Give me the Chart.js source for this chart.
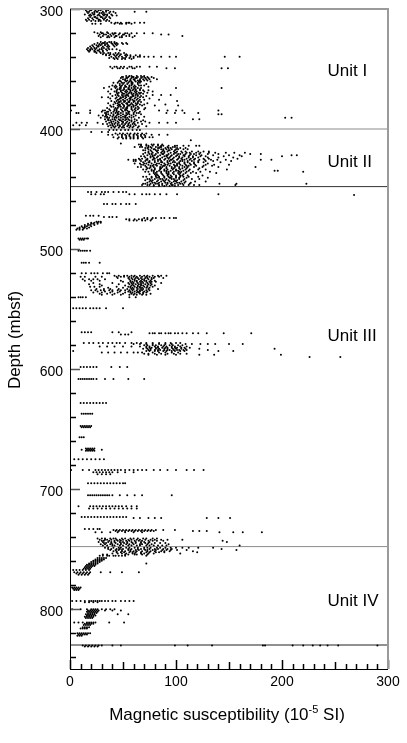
<!DOCTYPE html>
<html>
<head>
<meta charset="utf-8">
<script src="https://cdn.jsdelivr.net/npm/chart.js@4/dist/chart.umd.min.js"></script>
<style>
  html, body { margin: 0; padding: 0; background: #fff; }
  canvas { display: block; }
</style>
</head>
<body>
<canvas id="g-susc" width="407" height="743"></canvas>
<script>
// rows: [depth (mbsf), [magnetic susceptibility (10^-5 SI) read at that depth]]
var unitI = [
  [300.2, [13,16,17,21,23,24,28,31]],
  [301.1, [15,19,20,24,27,29,34,36]],
  [302.3, [16,18,23,25,26,31,34,38,41,61,72]],
  [303.4, [17,21,23,28,30,32,37,43]],
  [304.6, [14,19,22,23,27,31,33,35,39]],
  [305.5, [18,20,26,28,32,35,40,44]],
  [306.7, [19,23,24,29,30,34,37]],
  [307.8, [17,21,25,26,31,33,38]],
  [309.0, [15,18,22,27,28,32,35]],
  [310.1, [16,20,24,27,29,34,37]],
  [311.4, [39,43,45,48,53,55,56,61,66,70]],
  [312.2, [21,24,29,42,47,49,53,58]],
  [319.4, [23,29,35]],
  [320.3, [26,30,31,36,40,42,43,47,52,54,58,63,70,78]],
  [321.2, [28,32,34,38,41,46,50,51,56,86,93]],
  [322.4, [27,31,36,39,43,44,49,53,56,61,106]],
  [323.5, [29,35,37,42,47,49,59]],
  [327.4, [29,33,37,39,42]],
  [328.3, [26,31,32,35,39,42,44,49,53]],
  [329.2, [23,28,30,33,35,40,43,45,50,54]],
  [330.3, [21,25,27,29,33,36,41,44]],
  [331.2, [19,22,26,27,31,35,37,42]],
  [332.4, [17,20,23,25,30,32,36]],
  [333.5, [16,19,21,24,28,30,34,37,40,44]],
  [334.6, [17,19,23,26,27,31,35,47]],
  [335.6, [18,23,24,28,31]],
  [336.6, [25,29,32,36,38,43,46,51]],
  [337.7, [31,34,38,41,45,48,53]],
  [338.6, [34,37,42,44,47,52,54,57,62,66]],
  [339.7, [39,43,46,49,53,57,60,64,66,70,74,79,86,94,100,146,160]],
  [340.8, [37,41,44,50,52,56,60]],
  [341.6, [42,45,49,52,58]],
  [348.1, [38,42,44,48,51,56,58,63,66,75,82]],
  [349.3, [40,45,47,50,54,59,61,91,99,143,149]],
  [355.8, [53,56,58,63,67,70]],
  [356.7, [49,50,55,59,60,64,68,70,73,77]],
  [357.6, [48,53,54,58,62,63,67,71,74,79]],
  [358.5, [50,52,57,60,61,66,69,72,75,82]],
  [359.5, [47,52,54,57,61,64,66,70,73]],
  [360.4, [46,48,53,56,58,62,65,67,76]],
  [361.5, [41,45,49,51,55,58,59,64,66]],
  [362.5, [47,50,54,58,59,64,72]],
  [363.8, [40,43,47,49,52,56,58,61,65,67,70]],
  [364.8, [37,42,44,48,52,53,56,60,62,74]],
  [365.9, [32,43,47,48,51,55,58,61,64,67,100,143]],
  [366.8, [39,45,47,51,55,56,60,62,66]],
  [367.8, [44,48,50,53,57,59,62,66,69,74]],
  [368.7, [36,42,44,48,52,54,57,61,63,70,78]],
  [369.7, [44,46,49,53,56,58,62,65,67,73]],
  [370.7, [38,45,50,51,55,58,60,63,66,69]],
  [371.7, [43,45,49,53,54,59,62,64,78,86,95]],
  [372.6, [40,46,50,52,55,59,60,64,67,72]],
  [373.6, [30,36,44,48,50,53,57,58,62,66,69]],
  [374.6, [38,43,47,48,52,56,57,61,64,75]],
  [375.6, [45,46,50,54,57,59,63,66,70,84]],
  [376.6, [39,44,48,51,52,56,60,61,65,101]],
  [377.6, [42,46,47,51,55,56,60,64,67]],
  [378.5, [36,43,45,49,53,54,58,62,64,73]],
  [379.5, [41,46,47,50,54,57,59,63,66,70,90]],
  [380.5, [38,45,47,51,55,56,60,62,68,80,102]],
  [381.5, [39,41,46,48,51,54,58,60,64]],
  [382.5, [35,43,45,50,53,54,58,62,65,71]],
  [383.5, [37,42,44,48,52,53,58,61,64,70]],
  [384.6, [0,1,19,31,33,38,42,44,49,52,54,59,62,84,92,100,106,140]],
  [385.6, [30,35,36,41,44,46,50,55,56,61,66]],
  [386.7, [6,8,19,33,34,39,43,45,48,53,55,60,63,65,91,99,108,121]],
  [387.7, [34,36,41,45,46,50,54,56,60,67,140,143]],
  [388.7, [27,31,34,38,41,44,48,52,53,58,62]],
  [389.7, [33,35,40,43,46,50,52,56,60,70]],
  [390.7, [29,35,37,42,44,48,52,54,58,65,203,209]],
  [391.8, [33,36,40,42,46,50,53,55,61,116,122]],
  [392.8, [36,38,43,47,48,52,56,58,63,69]],
  [393.8, [34,39,41,45,49,50,54,58,61,67,71]],
  [394.8, [6,11,16,26,37,39,43,46,50,53,56,60,64,75,84,92,100]],
  [395.8, [31,35,40,42,45,49,52,55,59,61,68]],
  [396.8, [3,9,15,38,40,45,47,51,55,57,62]],
  [397.8, [36,41,43,47,50,54,57,60,65,72]],
  [398.8, [39,42,46,49,51,56,59,64]]
];

var unitII = [
  [400.8, [37,41,44,48,52,55,59,63,66]],
  [402.6, [20,30,36]],
  [403.7, [43,47,50,54,57,61,64,68,72]],
  [404.8, [36,40,45,49,52,56,60,63,67,70,77,84,92]],
  [405.9, [49,53,56,60,64,67,71]],
  [406.9, [41,46,49,53,57,60,64,68,71,75,78]],
  [407.9, [45,50,53,57,60,64,69]],
  [409.3, [114]],
  [412.1, [48]],
  [413.0, [65,67,72,77,79,83,87]],
  [413.9, [67,72,74,78,83,86,88,93,99,101,107,112,119,122]],
  [414.9, [61,66,68,74,76,81,85,86,92,97,99]],
  [415.9, [71,73,77,83,84,90,93,95,101,104,109]],
  [416.8, [74,79,80,86,88,91,96,100,102,107,111]],
  [417.8, [69,71,76,81,83,88,93,94,99]],
  [418.8, [74,77,82,87,89,92,98,101,105,109,115,121,126,131]],
  [419.8, [71,74,78,83,86,89,95,99,100,106,110,113,119,123,131,137,147,155,165]],
  [420.8, [69,75,77,81,87,88,93,98,102,104,109,114,117,122,130,140,170,180]],
  [421.8, [73,78,80,85,91,92,96,101,107,108,113,119,124,135,150,160,209,214]],
  [422.8, [67,70,76,78,83,89,91,95,100,103,108,112,116,123,128,145,162,200]],
  [423.7, [71,76,79,82,87,92,94,98,103,106,112,116,121,130,140,154]],
  [424.7, [65,68,73,79,80,85,90,93,97,102,105,110,114,118,126,131,158]],
  [425.7, [55,60,62,66,72,73,78,83,85,89,95,96,101,106,108,113,117,122,127,133,139,147,180,190]],
  [426.7, [60,62,67,71,75,80,83,86,92,94,98,104,106,111,115,121,128,135,152]],
  [427.7, [69,74,75,80,86,87,92,97,99,103,108,111,117,121,126,142]],
  [428.7, [61,66,70,72,77,82,84,89,93,95,101,103,108,113,117,130]],
  [429.7, [67,69,74,79,81,86,90,92,98,101,104,109,114,118,128,136,150]],
  [430.7, [71,76,78,82,88,89,94,99,101,106,110,112,119,126,134]],
  [431.7, [64,67,72,76,79,85,87,91,96,99,103,108,111,117,125,140,175]],
  [432.7, [73,75,80,85,86,91,96,98,103,106,110,122]],
  [433.7, [69,72,77,80,85,89,92,97,100,104,109,113,121,128,148]],
  [434.7, [77,79,84,89,91,95,100,102,107,112,193,196]],
  [435.7, [71,74,79,82,86,91,93,98,103,105,110,116,123,132,220]],
  [436.7, [79,81,86,91,93,97,102,104,109,114,119,138]],
  [437.7, [75,80,82,87,92,93,98,103,107]],
  [438.7, [81,83,88,92,95,100,104,106,111,125]],
  [439.7, [69,72,77,81,84,89,93,96,100,104,107,112,121]],
  [440.7, [77,82,84,89,94,95,100,103,110,130]],
  [441.7, [73,75,80,85,87,91,96,98,103,108,115,122]],
  [442.7, [71,76,78,83,88,90,93,99,101,107]],
  [443.7, [75,77,82,86,89,94,98,100,105,109,118,128]],
  [444.7, [73,78,80,84,90,92,96,101,103,108,114]],
  [445.7, [69,71,76,81,83,87,92,95,99,104,106,113,141,157,223]],
  [446.7, [68,73,75,79,84,87,91,96,97,102,107,112,117,122,156]],
  [447.6, [79,84,89,94,99]]
];

var unitIII = [
  [452.4, [17,20,25,30,33,36,41,46,50,53]],
  [454.3, [20,24,29,32,56,61,68,72,75,80,85,91,101,140]],
  [455.0, [268]],
  [462.4, [32,35,40,43,48,53,56,62]],
  [472.3, [15,19,22,27]],
  [473.4, [32,37,40,44]],
  [474.2, [70,73,78,81,86,89,94,98,100]],
  [475.3, [53,56,61,65,68,73,77]],
  [476.3, [56,60,63,68,71,76]],
  [477.2, [25,27,29]],
  [478.1, [20,23,26,29]],
  [479.0, [17,20,22,26]],
  [480.0, [14,17,19,23]],
  [481.0, [11,14,16,20]],
  [482.0, [9,12,14,18]],
  [483.0, [7,9,13,16]],
  [484.0, [6,9,12]],
  [491.3, [8,10,12,14,16,17]],
  [492.2, [9,11,13]],
  [501.4, [8,10,12,14,16,19]],
  [511.4, [11,13,15,18,28]],
  [520.3, [11,15,20,23,26,31,35,37]],
  [522.2, [42,46,51,54,58,61,66,70,73,78,83,86,91]],
  [523.1, [10,14,24,30,44,48,51,56,60,63,68,72,75,80,84]],
  [524.2, [45,55,58,62,64,67,71,73,77,79,88]],
  [525.3, [12,18,22,26,33,56,59,61,65,68,70,74,77]],
  [526.4, [14,20,28,48,57,61,63,67,70,72,76,80]],
  [527.3, [50,57,59,63,66,68,72,75,77,81]],
  [528.4, [22,40,55,58,60,64,67,69,73,76,86]],
  [529.3, [18,28,46,56,59,62,65,67,71,74,77]],
  [530.4, [30,52,58,60,64,67,69,73,76,80]],
  [531.4, [19,23,28,44,55,57,61,64,66,70,73,78]],
  [532.3, [36,50,57,59,63,66,68,72,75]],
  [533.4, [25,32,38,46,54,58,60,64,67,69,74,83]],
  [534.4, [20,24,29,32,37,40,45,48,52,56,59,63,66,68,72,75]],
  [535.4, [26,33,40,47,55,57,61,64,66,70,73]],
  [536.3, [22,30,38,45,52,57,59,63,65,69,72]],
  [537.3, [28,35,42,50,58,61,66,69,76]],
  [538.2, [30,40,48,56,60,63,68,72]],
  [540.2, [8,10,12,15,56,62]],
  [549.3, [0,3,6,9,12,15,19,22,25,28,34,50]],
  [569.4, [11,14,17,20,40,46,58]],
  [570.3, [75,78,80,84,86,90,93,95,99,102,106,110,116,121,129,145,171]],
  [571.2, [48,52,55]],
  [578.3, [13,18,22,27,31,36,40,44,47,52,58,63,67,72,78,84,90,95,100,104]],
  [579.2, [60,66,72,78,84,90,96,109,115,123,130,137,150,163]],
  [580.3, [70,73,78,81,86,89,94,97,102,106]],
  [581.3, [28,35,42,50,58,66,72,75,80,83,88,91,96,99,104,110]],
  [582.2, [72,75,77,81,83,87,90,92,96,99,101,105,108,113]],
  [583.2, [69,73,76,81,84,89,92,97,100,105,109,122,193]],
  [584.2, [74,76,80,83,85,89,92,94,98,101,103,107,110,130]],
  [585.1, [0,3,72,75,80,83,88,91,96,99,104,108,140,154]],
  [586.2, [30,36,42,48,54,60,64,68,78,84,90,96,102]],
  [587.2, [70,74,80,86,92,98,104,110]],
  [588.2, [74,82,90,100,122,136,199]],
  [590.1, [226,255]],
  [598.3, [10,13,16,19,22,25,39,47,54]],
  [608.3, [8,10,12,14,16,18,20,22,25,33,41,55,70]],
  [628.3, [10,13,16,19,22,25,28,31,34]],
  [637.3, [11,13,15,17,19,21]],
  [647.6, [10,12,14,16,18,20]],
  [648.6, [11,13,15,17,19]],
  [656.8, [0,9,11,13]],
  [666.2, [15,17,19,21,23]],
  [667.2, [11,16,18,20,22,30]],
  [668.2, [15,17,19,21,23]],
  [675.3, [0,4,8,12,16,20,24,28,32]],
  [684.2, [1,12,18,24,27,30,33,36,39,42,45,48,52,56,60,64,68,72,79,85,92,100,110,117,126]],
  [686.1, [22,25,28,31,34,37,40,45,52,60]],
  [687.8, [26,30,34,38]],
  [695.3, [17,20,23,26,29,32,35,38,41,44,47,50,52]],
  [705.2, [17,19,21,23,25,27,29,31,33,35,37,40,47,54,61,68,96]],
  [714.3, [0,8,19,22,25,28,31,34,37,40,43,46,49,53,58,63]],
  [716.2, [18,22,26,30,34,38,42,46,50,54,58,63]],
  [723.3, [11,14,17,20,23,26,29,32,35,38,41,44,47,50,53]],
  [724.2, [60,66,74,80,86,129,140,151]],
  [733.3, [14,18,22,26,28]],
  [734.2, [41,44,47,50,53,56,59,62,65,68,71,74,77,81,88,99]],
  [735.1, [43,46,49,52,55,58,61,64,67,70,73,76,79,116,122,129]],
  [736.1, [24,30,38,45,52,60,68,141,154,163,181]],
  [741.2, [26,30,33,38,41,43,49,52,57,60,64,69,72,78,82]],
  [742.2, [28,33,35,39,44,47,50,55,58,63,66,71,76,80,86,92,106]],
  [743.2, [30,32,37,42,45,48,53,56,61,65,68,74,78,82,88,144]],
  [744.1, [27,31,36,39,42,47,50,54,58,62,67,70,75,148]],
  [745.1, [32,34,39,43,48,51,54,59,62,67,71,74,80,85,90]],
  [746.1, [29,33,38,40,45,48,53,56,60,66,68,73,77,93]],
  [747.1, [31,35,40,42,47,50,55,58,63,66,72,75,79,83,87,91,160]]
];

var unitIV = [
  [748.9, [33,36,41,46,48,53,56,61,64,70,73,76,82,85,90,95,100,106,112,121,135]],
  [749.9, [36,39,44,47,50,55,58,64,67,70,75,80,83,88,92,96,143]],
  [750.8, [38,43,46,49,55,57,62,65,71,73,78,81,87,91,95,101,110,157]],
  [751.8, [41,44,49,52,57,60,63,68,73,76,80,86,89,94,116]],
  [752.7, [44,48,51,56,59,62,67,72,75,81,84,89,120]],
  [753.7, [40,45,49,53,59,61,67,70,74,79,104]],
  [754.6, [31,35,52,55,61,63,68,73]],
  [755.6, [28,31,35,37,41,43,46,49,52,72]],
  [757.5, [26,28,30,32,34]],
  [758.7, [24,26,28,30,32]],
  [759.8, [22,24,26,28,30]],
  [760.9, [20,22,24,26,28]],
  [762.0, [18,20,22,24,26,72]],
  [763.1, [16,18,20,22,24]],
  [764.2, [15,17,19,21,23]],
  [765.3, [14,16,18,20]],
  [766.4, [13,15,17,19]],
  [767.5, [3,6,9,12,15,18]],
  [769.3, [4,7,10,13,16,19,29,38,49,65]],
  [770.4, [6,9,12,15,18]],
  [771.4, [8,11,14,17]],
  [782.0, [2,4,6,8,10]],
  [783.1, [3,5,7,9]],
  [784.2, [4,6,8]],
  [793.3, [2,6,10,14,18,20,22,24,26,28,30,33,36,40,43,48,52,56,60]],
  [794.4, [14,18,22,26]],
  [800.2, [2,10,16,20,22,24,26,30,34,38,42]],
  [801.2, [17,19,21,23,25,27,33,40,48]],
  [802.3, [16,18,20,22,24,26]],
  [803.3, [17,19,21,23,25]],
  [804.4, [15,17,19,21,23,45,55]],
  [805.4, [16,18,20,22,24]],
  [806.5, [14,16,18,20,22]],
  [807.5, [15,17,19,21]],
  [811.2, [0,4,8,12,16,18,20,22,24,37,51]],
  [812.3, [14,16,18,20,22]],
  [813.4, [13,15,17,19]],
  [815.2, [12,14,16,18]],
  [816.3, [10,12,14,16]],
  [820.2, [7,9,11,13,15,17,19]],
  [821.3, [8,10,12,14,16]],
  [822.3, [7,9,11]],
  [830.4, [12,15,18,21,24,27,30,40,48,99,111,134,182,184,210,220,229,236,243,253,290]],
  [831.3, [14,17,20,23,26]]
];

var unitNames = ['Unit I', 'Unit II', 'Unit III', 'Unit IV'];
var unitLabelDepths = [352, 428, 573, 794];
var boundaryDepths = [400, 448, 748, 830];
var boundaryColors = ['#8a8a8a', '#333', '#8a8a8a', '#222'];
var yTickLabels = [300, 400, 500, 600, 700, 800];
var xTickLabels = [0, 100, 200, 300];

function toPoints(rows) {
  var pts = [];
  rows.forEach(function (r) {
    r[1].forEach(function (v) { pts.push({x: v, y: r[0]}); });
  });
  return pts;
}

var allPoints = [].concat(toPoints(unitI), toPoints(unitII), toPoints(unitIII), toPoints(unitIV));

var datasets = [{
  label: 'MS',
  data: allPoints,
  backgroundColor: '#000',
  borderWidth: 0,
  pointRadius: 1,
  pointHoverRadius: 1
}];
boundaryDepths.forEach(function (d, i) {
  datasets.push({
    type: 'line',
    data: [{x: 0, y: d}, {x: 300, y: d}],
    borderColor: boundaryColors[i],
    borderWidth: 1,
    pointRadius: 0
  });
});

var frame = {
  id: 'frame',
  afterDraw: function (chart) {
    var ctx = chart.ctx, a = chart.chartArea, xs = chart.scales.x, ys = chart.scales.y;
    var v, px, py, len;
    var L = Math.round(a.left), B = Math.round(a.bottom), T = Math.round(a.top);
    ctx.save();
    // inward ticks: every 20 m on depth, every 10 units on susceptibility
    for (v = 300; v <= 840; v += 20) {
      py = Math.round(ys.getPixelForValue(v));
      len = v % 100 === 0 ? 10 : 6;
      ctx.fillStyle = v % 100 === 0 ? '#555' : '#000';
      ctx.fillRect(L, py - 0.25, len, 1.5);
    }
    ctx.fillStyle = '#000';
    for (v = 0; v <= 300; v += 10) {
      px = Math.round(xs.getPixelForValue(v));
      len = v % 100 === 0 ? 9 : (v % 50 === 0 ? 7 : 5);
      ctx.fillRect(px - 0.25, B - len, 1.5, len);
    }
    // box
    ctx.fillStyle = '#9a9a9a';
    ctx.fillRect(L, T - 1, Math.round(a.right) - L + 1, 2);
    ctx.fillRect(Math.round(a.right) - 1, T - 1, 2, B - T + 1);
    ctx.fillStyle = '#000';
    ctx.fillRect(L, T, 1, B - T + 1);
    ctx.fillRect(L, B, Math.round(a.right) - L, 1);

    // unit labels
    ctx.fillStyle = '#000';
    ctx.font = '17px "Liberation Sans", Arial, sans-serif';
    ctx.textAlign = 'left';
    ctx.textBaseline = 'middle';
    unitNames.forEach(function (n, i) {
      ctx.fillText(n, xs.getPixelForValue(243), ys.getPixelForValue(unitLabelDepths[i]));
    });

    // x title with superscript
    ctx.textBaseline = 'alphabetic';
    var big = '17px "Liberation Sans", Arial, sans-serif';
    var small = '11px "Liberation Sans", Arial, sans-serif';
    var p1 = 'Magnetic susceptibility (10', p2 = '-5', p3 = ' SI)';
    ctx.font = big; var w1 = ctx.measureText(p1).width, w3 = ctx.measureText(p3).width;
    ctx.font = small; var w2 = ctx.measureText(p2).width;
    var x0 = 227 - (w1 + w2 + w3) / 2, base = 720;
    ctx.font = big; ctx.fillText(p1, x0, base);
    ctx.font = small; ctx.fillText(p2, x0 + w1, base - 7);
    ctx.font = big; ctx.fillText(p3, x0 + w1 + w2, base);

    // y title
    ctx.translate(20, 340);
    ctx.rotate(-Math.PI / 2);
    ctx.textAlign = 'center';
    ctx.font = big;
    ctx.fillText('Depth (mbsf)', 0, 0);
    ctx.restore();
  }
};

var ctx = document.getElementById('g-susc');
var myChart = new Chart(ctx, {
  type: 'scatter',
  data: {datasets: datasets},
  options: {
    responsive: false,
    animation: false,
    devicePixelRatio: 1,
    layout: {padding: {top: 9, right: 19, left: 0, bottom: 0}},
    plugins: {legend: {display: false}, tooltip: {enabled: false}},
    scales: {
      x: {
        type: 'linear', min: 0, max: 300,
        grid: {display: false, drawTicks: false},
        border: {display: false},
        afterBuildTicks: function (s) { s.ticks = xTickLabels.map(function (v) { return {value: v}; }); },
        afterFit: function (s) { s.height = 74; s.paddingLeft = 0; s.paddingRight = 0; },
        ticks: {padding: 5, color: '#000', font: {family: '"Liberation Sans", Arial, sans-serif', size: 14}, maxRotation: 0}
      },
      y: {
        type: 'linear', min: 300, max: 850, reverse: true,
        grid: {display: false, drawTicks: false},
        border: {display: false},
        afterBuildTicks: function (s) { s.ticks = yTickLabels.map(function (v) { return {value: v}; }); },
        afterFit: function (s) { s.width = 70; s.paddingTop = 0; s.paddingBottom = 0; },
        ticks: {padding: 7, labelOffset: 3, color: '#000', font: {family: '"Liberation Sans", Arial, sans-serif', size: 14}}
      }
    }
  },
  plugins: [frame]
});
</script>
</body>
</html>
